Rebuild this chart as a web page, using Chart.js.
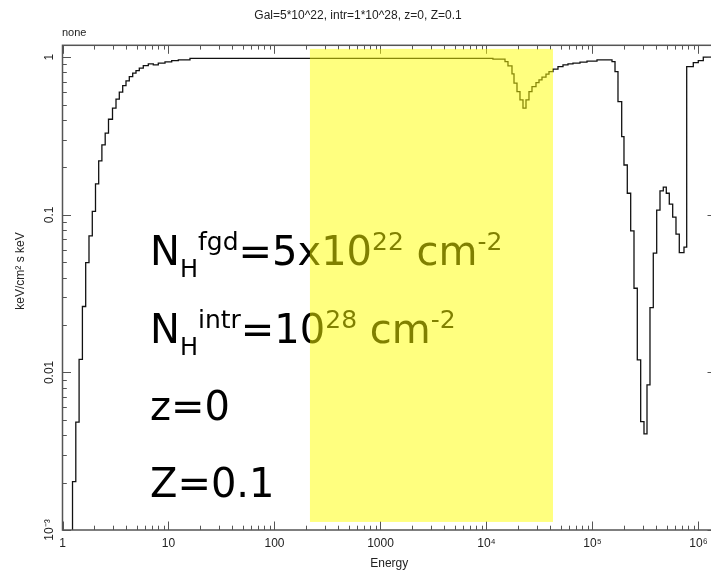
<!DOCTYPE html>
<html><head><meta charset="utf-8">
<script src="https://cdn.jsdelivr.net/npm/chart.js@4/dist/chart.umd.min.js"></script>
<style>
html,body{margin:0;padding:0;overflow:hidden;background:#fff;}
#wrap{position:relative;width:759px;height:573px;}
</style></head><body>
<div id="wrap"><canvas id="c"></canvas></div>
<script>
// ---- texts ----
const titleText = 'Gal=5*10^22, intr=1*10^28, z=0, Z=0.1';
const cornerLabel = 'none';
const xAxisTitle = 'Energy';
const yAxisTitle = 'keV/cm² s keV';

// ---- tick labels ----
const xTickValues = [1, 10, 100, 1000, 1e4, 1e5, 1e6];
const xTickLabels = ['1', '10', '100', '1000', '10⁴', '10⁵', '10⁶'];
const yTickValues = [0.001, 0.01, 0.1, 1];
const yTickLabels = ['10⁻³', '0.01', '0.1', '1'];

// ---- axis ranges ----
const xRange = [1, 1.463e6];
const yRange = [1e-3, 1.19];

// ---- data: step histogram (left bin edges, last entry = right edge) ----
const energyEdges = [
  1, 1.243, 1.335, 1.434, 1.541, 1.655, 1.778, 1.910, 2.048, 2.195,
  2.353, 2.528, 2.716, 2.963, 3.197, 3.435, 3.698, 3.972, 4.268, 4.596,
  4.936, 5.304, 5.784, 6.448, 7.188, 8.012, 9.268, 10.72, 12.38, 15.95,
  11500, 14950, 15950, 17400, 18180, 19400, 20700, 22100, 23590, 25170,
  26870, 29310, 31290, 33390, 36420, 38870, 42400, 47260, 52690, 58740,
  65460, 76230, 88750, 110300, 152800, 163100, 174000, 188600, 198200, 213000,
  229300, 246400, 264700, 284900, 306100, 326800, 348700, 374600, 403400, 433400,
  465600, 496900, 530400, 571000, 613400, 659100, 729800, 774100, 893200, 995700,
  1110000, 1463000
];
const fluxValues = [
  0.0005, 0.00203, 0.00484, 0.0121, 0.0262, 0.0497, 0.0735, 0.105, 0.157, 0.220,
  0.278, 0.330, 0.404, 0.475, 0.542, 0.600, 0.660, 0.708, 0.753, 0.792,
  0.822, 0.852, 0.885, 0.907, 0.893, 0.916, 0.934, 0.952, 0.961, 0.983,
  0.971, 0.938, 0.881, 0.783, 0.684, 0.605, 0.536, 0.475, 0.536, 0.605,
  0.651, 0.690, 0.718, 0.747, 0.780, 0.810, 0.839, 0.872, 0.893, 0.907,
  0.916, 0.930, 0.943, 0.961, 0.938, 0.810, 0.523, 0.313, 0.207, 0.137,
  0.0790, 0.0342, 0.0120, 0.00487, 0.00407, 0.00833, 0.0258, 0.0571, 0.107, 0.142,
  0.150, 0.137, 0.117, 0.0966, 0.0753, 0.0576, 0.0623, 0.872, 0.924, 0.952,
  1.0, 1.0
];

// ---- highlighted band (data coordinates) ----
const bandEnergy = [216, 42400];
const bandFlux = [1.125e-3, 1.129];

// ---- annotation text runs ----
const annotationLines = [
  [['N','b'],['H','sub'],['fgd','sup'],['=5x10','b'],['22','sup'],[' cm','b'],['-2','sup']],
  [['N','b'],['H','sub'],['intr','sup'],['=10','b'],['28','sup'],[' cm','b'],['-2','sup']],
  [['z=0','b']],
  [['Z=0.1','b']]
];

// ---- styles ----
const STYLE = {
  labelFont: '"Liberation Sans", Arial, sans-serif',
  annFont: '"DejaVu Sans", sans-serif',
  annSizes: {b: 40, sub: 24, sup: 25},
  annShift: {b: 0, sub: 12, sup: -15},
  annX: 150,
  annBaselines: [265, 343, 420, 497],
  frame: '#555',
  tick: '#555',
  majorLen: 8.5,
  minorLen: 4.3
};

function isPow10(v) {
  const l = Math.log10(v);
  return Math.abs(l - Math.round(l)) < 1e-9;
}
function lookup(vals, labels, v) {
  for (let i = 0; i < vals.length; i++) if (Math.abs(v / vals[i] - 1) < 1e-6) return labels[i];
  return '';
}

const points = energyEdges.map((e, i) => ({x: e, y: fluxValues[i]}));

function logTickValues(min, max) {
  const out = [];
  for (let e = Math.floor(Math.log10(min)); e <= Math.ceil(Math.log10(max)); e++) {
    for (let k = 1; k <= 9; k++) {
      const v = k * Math.pow(10, e);
      if (v >= min * 0.999999 && v <= max * 1.000001) out.push({v, major: k === 1});
    }
  }
  return out;
}

const framePlugin = {
  id: 'frameTicks',
  afterDatasetsDraw(chart) {
    const {ctx, chartArea: a, scales: {x, y}} = chart;
    ctx.save();
    ctx.strokeStyle = STYLE.tick;
    ctx.lineWidth = 1;
    ctx.beginPath();
    for (const t of logTickValues(x.min, x.max)) {
      const p = Math.round(x.getPixelForValue(t.v)) + 0.5;
      const L = t.major ? STYLE.majorLen : STYLE.minorLen;
      ctx.moveTo(p, a.bottom); ctx.lineTo(p, a.bottom - L);
      ctx.moveTo(p, a.top); ctx.lineTo(p, a.top + L);
    }
    for (const t of logTickValues(y.min, y.max)) {
      const p = Math.round(y.getPixelForValue(t.v)) + 0.5;
      const L = t.major ? STYLE.majorLen : STYLE.minorLen;
      ctx.moveTo(a.left, p); ctx.lineTo(a.left + L, p);
      ctx.moveTo(a.right, p); ctx.lineTo(a.right - L, p);
    }
    ctx.stroke();
    ctx.strokeStyle = STYLE.frame;
    ctx.lineWidth = 1.5;
    ctx.strokeRect(a.left, a.top, a.right - a.left, a.bottom - a.top);
    ctx.restore();
  },
  afterDraw(chart) {
    const {ctx, scales: {x, y}} = chart;
    ctx.save();
    // corner label
    ctx.fillStyle = '#222';
    ctx.font = '11px ' + STYLE.labelFont;
    ctx.textAlign = 'left';
    ctx.textBaseline = 'middle';
    ctx.fillText(cornerLabel, 62, 33);
    // y axis title
    ctx.save();
    ctx.translate(21, 271);
    ctx.rotate(-Math.PI / 2);
    ctx.textAlign = 'center';
    ctx.font = '12px ' + STYLE.labelFont;
    ctx.fillText(yAxisTitle, 0, 0);
    ctx.restore();
    // annotation
    ctx.fillStyle = '#000';
    ctx.textBaseline = 'alphabetic';
    ctx.textAlign = 'left';
    annotationLines.forEach((runs, li) => {
      let cx = STYLE.annX;
      const base = STYLE.annBaselines[li];
      for (const [txt, kind] of runs) {
        ctx.font = STYLE.annSizes[kind] + 'px ' + STYLE.annFont;
        ctx.fillText(txt, cx, base + STYLE.annShift[kind]);
        cx += ctx.measureText(txt).width;
      }
    });
    // yellow band
    const x0 = x.getPixelForValue(bandEnergy[0]);
    const x1 = x.getPixelForValue(bandEnergy[1]);
    const y0 = y.getPixelForValue(bandFlux[1]);
    const y1 = y.getPixelForValue(bandFlux[0]);
    ctx.fillStyle = 'rgba(255,255,0,0.5)';
    ctx.fillRect(x0, y0, x1 - x0, y1 - y0);
    ctx.restore();
  }
};

new Chart(document.getElementById('c'), {
  type: 'line',
  data: {
    datasets: [{
      data: points,
      stepped: true,
      borderColor: '#111',
      borderWidth: 1.3,
      pointRadius: 0,
      fill: false
    }]
  },
  options: {
    responsive: true,
    maintainAspectRatio: false,
    animation: false,
    devicePixelRatio: 1,
    layout: {padding: {left: 0, right: 43, top: 0, bottom: 0}},
    plugins: {
      legend: {display: false},
      tooltip: {enabled: false},
      title: {
        display: true,
        text: titleText,
        color: '#222',
        font: {family: STYLE.labelFont, size: 12, weight: 'normal'},
        padding: {top: 8, bottom: 22.9}
      }
    },
    scales: {
      x: {
        type: 'logarithmic',
        min: xRange[0], max: xRange[1],
        grid: {display: false, drawTicks: false},
        border: {display: false},
        ticks: {
          autoSkip: false, minRotation: 0, maxRotation: 0, padding: 6,
          color: '#222', font: {family: STYLE.labelFont, size: 12},
          callback: (v) => isPow10(v) ? lookup(xTickValues, xTickLabels, v) : ''
        },
        title: {display: true, text: xAxisTitle, color: '#222',
                font: {family: STYLE.labelFont, size: 12}, padding: {top: 0, bottom: 2}},
        afterFit: (s) => { s.height = 43; }
      },
      y: {
        type: 'logarithmic',
        min: yRange[0], max: yRange[1],
        grid: {display: false, drawTicks: false},
        border: {display: false},
        ticks: {
          autoSkip: false, minRotation: 90, maxRotation: 90, crossAlign: 'center', padding: 1,
          color: '#222', font: {family: STYLE.labelFont, size: 12},
          callback: (v) => isPow10(v) ? lookup(yTickValues, yTickLabels, v) : ''
        },
        afterFit: (s) => { s.width = 62.5; }
      }
    }
  },
  plugins: [framePlugin]
});
</script>
</body></html>
